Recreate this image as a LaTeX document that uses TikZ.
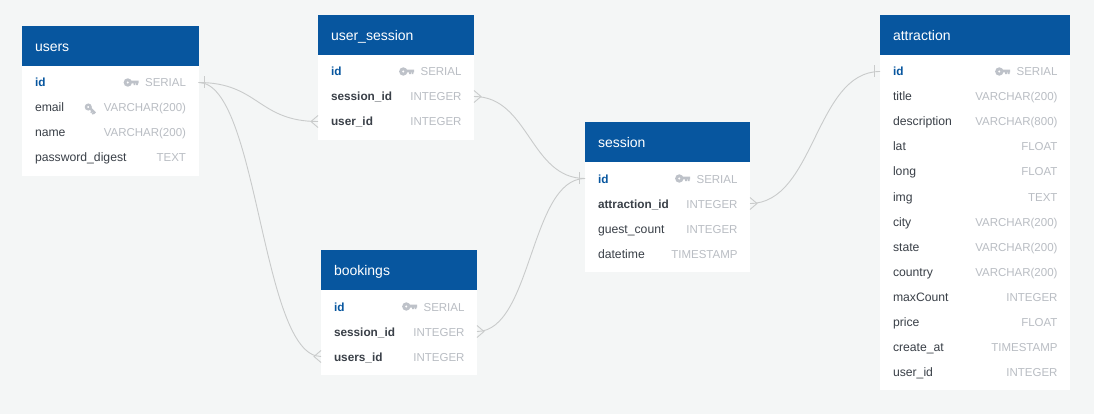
\documentclass[tikz,border=0pt]{standalone}
\usepackage{fontspec}
\setmainfont{Liberation Sans}
\usetikzlibrary{positioning}

\definecolor{headblue}{HTML}{07569F}
\definecolor{pagegray}{HTML}{F4F6F6}
\definecolor{fieldgray}{HTML}{3A4048}
\definecolor{typegray}{HTML}{B9BDC3}
\definecolor{keygray}{HTML}{BEC2C9}
\definecolor{linegray}{HTML}{C9CBCB}

\tikzset{
  headbox/.style={rectangle, fill=headblue, text=white, anchor=north west, minimum height=40pt, outer sep=0pt,
    inner xsep=13pt, inner ysep=0pt, text height=12pt, text depth=1pt, font=\fontsize{14}{16}\selectfont},
  bodybox/.style={rectangle, fill=white, inner sep=0pt, outer sep=0pt},
  rowbox/.style={rectangle, minimum height=25pt, inner xsep=13pt, inner ysep=0pt, outer sep=0pt, text=fieldgray,
    text height=11pt, text depth=2pt, font=\fontsize{12.2}{15}\selectfont},
  fkrow/.style={rowbox, font=\fontsize{11.8}{15}\selectfont\bfseries},
  idrow/.style={fkrow, text=headblue},
  typelabel/.style={inner sep=0pt, outer sep=0pt, text=typegray, text height=11pt, text depth=2pt,
    font=\fontsize{11.5}{14}\selectfont},
  relline/.style={draw=linegray, line width=0.9pt},
  barmark/.pic={\draw[relline] (6,-6) -- (6,6);},
  footmark/.pic={\draw[relline] (0,-6) -- (7,0) -- (0,6);},
  keymark/.pic={
    \fill[keygray, even odd rule] (-10.8,0) circle (4.2) (-10.8,0) circle (1.4);
    \fill[keygray] (-8,-1.9) rectangle (0,1) (-5,1) rectangle (-3.2,2.6) (-2.4,1) rectangle (-0.6,2.6);
  },
  node distance=0pt,
}

\begin{document}
\begin{tikzpicture}[x=1pt, y=-1pt]

    \fill[pagegray] (0,0) rectangle (1094,414);
    \useasboundingbox (0,0) rectangle (1094,414);

    % users
    \node[headbox, minimum width=176.5pt, text width=150.5pt] (users) at (22,26) {users};
    \node[bodybox, minimum width=176.5pt, minimum height=110pt, below=of users] (usersbody) {};
    \node[idrow, text width=150.5pt, below=4pt of users] (usersid) {id};
    \node[rowbox, text width=150.5pt, below=of usersid] (usersemail) {email};
    \node[rowbox, text width=150.5pt, below=of usersemail] (usersname) {name};
    \node[rowbox, text width=150.5pt, below=of usersname] (userspass) {password\_digest};
    \node[typelabel, left=12.5pt of usersid.east] (usersidtype) {SERIAL};
    \node[typelabel, left=12.5pt of usersemail.east] (usersemailtype) {VARCHAR(200)};
    \node[typelabel, left=12.5pt of usersname.east] (usersnametype) {VARCHAR(200)};
    \node[typelabel, left=12.5pt of userspass.east] (userspasstype) {TEXT};
    \pic at ([xshift=-6.5pt]usersidtype.west) {keymark};
    \pic[rotate=-45, scale=0.85] at ([shift={(-9,6)}]usersemailtype.west) {keymark};

    % user_session
    \node[headbox, minimum width=156pt, text width=130pt] (usersession) at (318,15) {user\_session};
    \node[bodybox, minimum width=156pt, minimum height=85pt, below=of usersession] (usersessionbody) {};
    \node[idrow, text width=130pt, below=4pt of usersession] (usersessionid) {id};
    \node[fkrow, text width=130pt, below=of usersessionid] (usersessionsess) {session\_id};
    \node[fkrow, text width=130pt, below=of usersessionsess] (usersessionuser) {user\_id};
    \node[typelabel, left=12.5pt of usersessionid.east] (usersessionidtype) {SERIAL};
    \node[typelabel, left=12.5pt of usersessionsess.east] (usersessionsesstype) {INTEGER};
    \node[typelabel, left=12.5pt of usersessionuser.east] (usersessionusertype) {INTEGER};
    \pic at ([xshift=-6.5pt]usersessionidtype.west) {keymark};

    % bookings
    \node[headbox, minimum width=156pt, text width=130pt] (bookings) at (321,250) {bookings};
    \node[bodybox, minimum width=156pt, minimum height=85pt, below=of bookings] (bookingsbody) {};
    \node[idrow, text width=130pt, below=4pt of bookings] (bookingsid) {id};
    \node[fkrow, text width=130pt, below=of bookingsid] (bookingssess) {session\_id};
    \node[fkrow, text width=130pt, below=of bookingssess] (bookingsuser) {users\_id};
    \node[typelabel, left=12.5pt of bookingsid.east] (bookingsidtype) {SERIAL};
    \node[typelabel, left=12.5pt of bookingssess.east] (bookingssesstype) {INTEGER};
    \node[typelabel, left=12.5pt of bookingsuser.east] (bookingsusertype) {INTEGER};
    \pic at ([xshift=-6.5pt]bookingsidtype.west) {keymark};

    % session
    \node[headbox, minimum width=165pt, text width=139pt] (session) at (585,122) {session};
    \node[bodybox, minimum width=165pt, minimum height=110pt, below=of session] (sessionbody) {};
    \node[idrow, text width=139pt, below=4pt of session] (sessionid) {id};
    \node[fkrow, text width=139pt, below=of sessionid] (sessionattr) {attraction\_id};
    \node[rowbox, text width=139pt, below=of sessionattr] (sessionguest) {guest\_count};
    \node[rowbox, text width=139pt, below=of sessionguest] (sessiondate) {datetime};
    \node[typelabel, left=12.5pt of sessionid.east] (sessionidtype) {SERIAL};
    \node[typelabel, left=12.5pt of sessionattr.east] (sessionattrtype) {INTEGER};
    \node[typelabel, left=12.5pt of sessionguest.east] (sessionguesttype) {INTEGER};
    \node[typelabel, left=12.5pt of sessiondate.east] (sessiondatetype) {TIMESTAMP};
    \pic at ([xshift=-6.5pt]sessionidtype.west) {keymark};

    % attraction
    \node[headbox, minimum width=190pt, text width=164pt] (attraction) at (880,15) {attraction};
    \node[bodybox, minimum width=190pt, minimum height=335pt, below=of attraction] (attractionbody) {};
    \node[idrow, text width=164pt, below=4pt of attraction] (attrid) {id};
    \node[rowbox, text width=164pt, below=of attrid] (attrtitle) {title};
    \node[rowbox, text width=164pt, below=of attrtitle] (attrdesc) {description};
    \node[rowbox, text width=164pt, below=of attrdesc] (attrlat) {lat};
    \node[rowbox, text width=164pt, below=of attrlat] (attrlong) {long};
    \node[rowbox, text width=164pt, below=of attrlong] (attrimg) {img};
    \node[rowbox, text width=164pt, below=of attrimg] (attrcity) {city};
    \node[rowbox, text width=164pt, below=of attrcity] (attrstate) {state};
    \node[rowbox, text width=164pt, below=of attrstate] (attrcountry) {country};
    \node[rowbox, text width=164pt, below=of attrcountry] (attrmax) {maxCount};
    \node[rowbox, text width=164pt, below=of attrmax] (attrprice) {price};
    \node[rowbox, text width=164pt, below=of attrprice] (attrcreate) {create\_at};
    \node[rowbox, text width=164pt, below=of attrcreate] (attruser) {user\_id};
    \node[typelabel, left=12.5pt of attrid.east] (attridtype) {SERIAL};
    \node[typelabel, left=12.5pt of attrtitle.east] (attrtitletype) {VARCHAR(200)};
    \node[typelabel, left=12.5pt of attrdesc.east] (attrdesctype) {VARCHAR(800)};
    \node[typelabel, left=12.5pt of attrlat.east] (attrlattype) {FLOAT};
    \node[typelabel, left=12.5pt of attrlong.east] (attrlongtype) {FLOAT};
    \node[typelabel, left=12.5pt of attrimg.east] (attrimgtype) {TEXT};
    \node[typelabel, left=12.5pt of attrcity.east] (attrcitytype) {VARCHAR(200)};
    \node[typelabel, left=12.5pt of attrstate.east] (attrstatetype) {VARCHAR(200)};
    \node[typelabel, left=12.5pt of attrcountry.east] (attrcountrytype) {VARCHAR(200)};
    \node[typelabel, left=12.5pt of attrmax.east] (attrmaxtype) {INTEGER};
    \node[typelabel, left=12.5pt of attrprice.east] (attrpricetype) {FLOAT};
    \node[typelabel, left=12.5pt of attrcreate.east] (attrcreatetype) {TIMESTAMP};
    \node[typelabel, left=12.5pt of attruser.east] (attrusertype) {INTEGER};
    \pic at ([xshift=-6.5pt]attridtype.west) {keymark};

    % relations
    \draw[relline] (usersid.east) .. controls +(60,0) and +(-60,0) .. (usersessionuser.west);
    \draw[relline] (usersid.east) .. controls +(60,0) and +(-60,0) .. (bookingsuser.west);
    \draw[relline] (usersessionsess.east) .. controls +(55,0) and +(-55,0) .. (sessionid.west);
    \draw[relline] (bookingssess.east) .. controls +(55,0) and +(-55,0) .. (sessionid.west);
    \draw[relline] (sessionattr.east) .. controls +(65,0) and +(-65,0) .. (attrid.west);

    \pic at (usersid.east) {barmark};
    \pic[xscale=-1] at (sessionid.west) {barmark};
    \pic[xscale=-1] at (attrid.west) {barmark};
    \pic[xscale=-1] at (usersessionuser.west) {footmark};
    \pic[xscale=-1] at (bookingsuser.west) {footmark};
    \pic at (usersessionsess.east) {footmark};
    \pic at (bookingssess.east) {footmark};
    \pic at (sessionattr.east) {footmark};

\end{tikzpicture}
\end{document}
